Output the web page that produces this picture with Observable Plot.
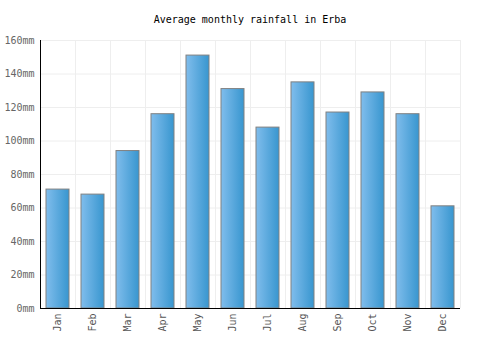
<!DOCTYPE html>
<html>
<head>
<meta charset="utf-8">
<script src="https://cdn.jsdelivr.net/npm/d3@7"></script>
<script src="https://cdn.jsdelivr.net/npm/@observablehq/plot@0.6"></script>
<style>
  body { margin: 0; background: #fff; }
  #title { height: 30px; width: 500px; text-align: center; font-family: "DejaVu Sans Mono", monospace; font-size: 10px; line-height: 12px; padding-top: 14px; box-sizing: border-box; color: #000; }
</style>
</head>
<body>
<div id="title">Average monthly rainfall in Erba</div>
<div id="chart"></div>
<script>
const months = ["Jan","Feb","Mar","Apr","May","Jun","Jul","Aug","Sep","Oct","Nov","Dec"];
const rainfall = [71, 68, 94, 116, 151, 131, 108, 135, 117, 129, 116, 61];
const yTicks = [0, 20, 40, 60, 80, 100, 120, 140, 160];

const data = months.map((m, i) => ({month: m, value: rainfall[i]}));

const defs = () => {
  const svg = d3.create("svg:defs");
  const g = svg.append("linearGradient").attr("id", "barGrad").attr("x1", "0").attr("x2", "1").attr("y1", "0").attr("y2", "0");
  g.append("stop").attr("offset", "0%").attr("stop-color", "#80bdec");
  g.append("stop").attr("offset", "100%").attr("stop-color", "#3896cf");
  return svg.node();
};

const half = 17.5;

const chart = Plot.plot({
  width: 500,
  height: 320,
  marginTop: 10,
  marginBottom: 42,
  marginLeft: 40,
  marginRight: 40,
  style: {fontFamily: "DejaVu Sans Mono, monospace", fontSize: "10px", color: "#666", background: "#fff"},
  x: {domain: months, paddingInner: 0.33, paddingOuter: 0.165, label: null},
  y: {domain: [0, 160], label: null},
  marks: [
    defs,
    Plot.ruleY(yTicks, {stroke: "#eeeeee", strokeWidth: 1}),
    Plot.ruleX(months, {y1: 0, y2: 160, dx: -half, stroke: "#eeeeee"}),
    Plot.ruleX([months[months.length - 1]], {y1: 0, y2: 160, dx: half, stroke: "#eeeeee"}),
    Plot.barY(data, {x: "month", y: "value", fill: "url(#barGrad)", stroke: "#808080", strokeWidth: 1}),
    Plot.axisY({ticks: yTicks, tickSize: 0, tickPadding: 6, tickFormat: d => d + "mm", fill: "#666"}),
    Plot.axisX({tickSize: 0, tickPadding: 5, tickRotate: -90, fill: "#555"}),
    Plot.ruleY([0], {stroke: "#000", strokeWidth: 1}),
    Plot.ruleX([months[0]], {y1: 0, y2: 160, dx: -half, stroke: "#000", strokeWidth: 1})
  ]
});
document.getElementById("chart").appendChild(chart);
</script>
</body>
</html>
